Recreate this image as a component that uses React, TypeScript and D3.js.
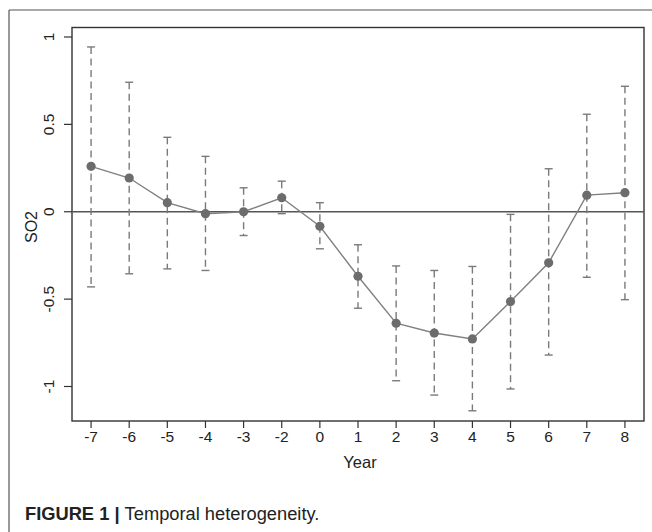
import React from "react";
import * as d3 from "d3";

const years = ["-7", "-6", "-5", "-4", "-3", "-2", "0", "1", "2", "3", "4", "5", "6", "7", "8"];
const estimates = [0.26, 0.193, 0.052, -0.011, 0.0, 0.08, -0.083, -0.369, -0.638, -0.694, -0.728, -0.514, -0.292, 0.095, 0.109];
const upperCI = [0.943, 0.741, 0.426, 0.317, 0.137, 0.175, 0.052, -0.189, -0.31, -0.336, -0.313, -0.015, 0.246, 0.558, 0.718];
const lowerCI = [-0.43, -0.355, -0.327, -0.336, -0.136, -0.011, -0.212, -0.552, -0.967, -1.049, -1.139, -1.014, -0.82, -0.375, -0.503];
const yTicks = [1, 0.5, 0, -0.5, -1];
const yTickLabels = ["1", "0.5", "0", "-0.5", "-1"];

const W = 652;
const H = 532;
const plot = { left: 72, right: 644, top: 27.5, bottom: 421 };

export default function App() {
  const x = d3.scalePoint<string>().domain(years).range([plot.left, plot.right]).padding(0.5);
  const y = d3.scaleLinear().domain([-1, 1]).range([386.5, 37]);
  const line = d3
    .line<number>()
    .x((_, i) => x(years[i]) as number)
    .y((d) => y(d));
  const font = "'Liberation Sans', Arial, Helvetica, sans-serif";
  const grey = "#7a7a7a";
  const capW = 4;

  return (
    <svg
      width={W}
      height={H}
      style={{ position: "absolute", left: 0, top: 0, background: "#fff" }}
      fontFamily={font}
    >
      {/* outer frame (top + left) */}
      <line x1={9} x2={W} y1={10} y2={10} stroke="#555" strokeWidth={1.2} />
      <line x1={9} x2={9} y1={10} y2={H} stroke="#555" strokeWidth={1.2} />

      {/* plot box */}
      <rect
        x={plot.left}
        y={plot.top}
        width={plot.right - plot.left}
        height={plot.bottom - plot.top}
        fill="none"
        stroke="#333"
        strokeWidth={1.4}
      />

      {/* zero line */}
      <line x1={plot.left} x2={plot.right} y1={y(0)} y2={y(0)} stroke="#555" strokeWidth={1.4} />

      {/* y axis ticks */}
      {yTicks.map((t, i) => (
        <g key={"yt" + i}>
          <line x1={plot.left - 8} x2={plot.left} y1={y(t)} y2={y(t)} stroke="#333" strokeWidth={1.2} />
          <text
            transform={`translate(53.5,${y(t)}) rotate(-90)`}
            textAnchor="middle"
            fontSize={15.5}
            fill="#222"
          >
            {yTickLabels[i]}
          </text>
        </g>
      ))}

      {/* x axis ticks */}
      {years.map((yr) => (
        <g key={"xt" + yr}>
          <line x1={x(yr)} x2={x(yr)} y1={plot.bottom} y2={plot.bottom + 7} stroke="#333" strokeWidth={1.2} />
          <text x={x(yr)} y={441.5} textAnchor="middle" fontSize={15.5} fill="#222">
            {yr}
          </text>
        </g>
      ))}

      {/* axis titles */}
      <text x={(plot.left + plot.right) / 2 + 2} y={468} textAnchor="middle" fontSize={16.5} fill="#222">
        Year
      </text>
      <text transform={`translate(36.5,227) rotate(-90)`} textAnchor="middle" fontSize={16} fill="#222">
        SO2
      </text>

      {/* error bars */}
      {years.map((yr, i) => {
        const cx = x(yr) as number;
        return (
          <g key={"eb" + yr} stroke={grey} strokeWidth={1.4}>
            <line x1={cx} x2={cx} y1={y(upperCI[i])} y2={y(lowerCI[i])} strokeDasharray="7,4.5" />
            <line x1={cx - capW} x2={cx + capW} y1={y(upperCI[i])} y2={y(upperCI[i])} />
            <line x1={cx - capW} x2={cx + capW} y1={y(lowerCI[i])} y2={y(lowerCI[i])} />
          </g>
        );
      })}

      {/* connecting line */}
      <path d={line(estimates) || ""} fill="none" stroke="#808080" strokeWidth={1.4} />

      {/* points */}
      {estimates.map((v, i) => (
        <circle key={"pt" + i} cx={x(years[i])} cy={y(v)} r={4.6} fill="#6c6c6c" />
      ))}

      {/* caption */}
      <text x={25} y={520} fontSize={18.3} fill="#222">
        <tspan fontWeight="bold">FIGURE 1</tspan>
        <tspan fontWeight="bold"> | </tspan>
        <tspan>Temporal heterogeneity.</tspan>
      </text>
    </svg>
  );
}
